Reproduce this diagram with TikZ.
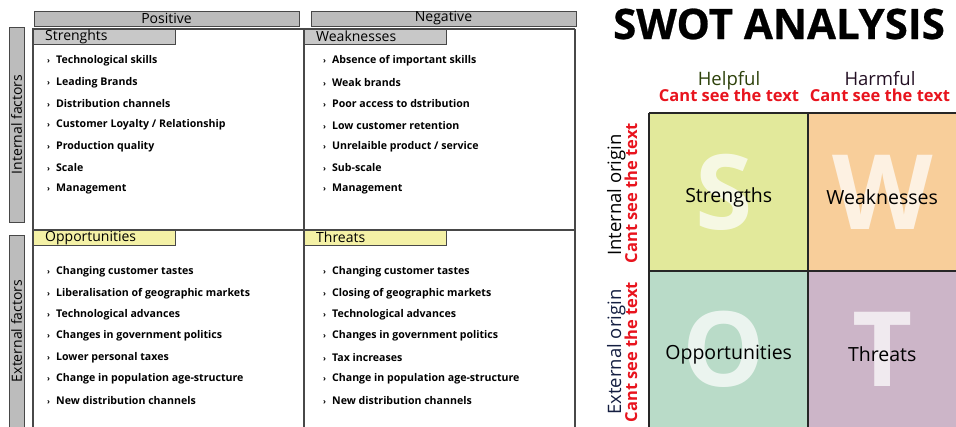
\documentclass[tikz,border=0pt]{standalone}
\usepackage{fontspec}
\setmainfont{Open Sans}
\newfontfamily\titlefont{Open Sans}[BoldFeatures={FakeBold=0.6}]
\usetikzlibrary{positioning}

\definecolor{barGray}{RGB}{188,188,188}
\definecolor{tabGray}{RGB}{200,200,200}
\definecolor{tabYellow}{RGB}{244,241,166}
\definecolor{lineGray}{RGB}{72,72,72}
\definecolor{swS}{RGB}{226,233,155}
\definecolor{swW}{RGB}{248,206,154}
\definecolor{swO}{RGB}{185,219,200}
\definecolor{swT}{RGB}{204,181,200}
\definecolor{cantRed}{RGB}{232,20,30}
\definecolor{helpGreen}{RGB}{45,65,10}
\definecolor{harmDark}{RGB}{35,15,35}
\definecolor{extNavy}{RGB}{20,30,65}

\newcommand\swotbul{{\fontsize{8}{8}\selectfont›}\hspace{6pt}}

\begin{document}
\begin{tikzpicture}[x=1pt,y=-1pt,
    frame/.style={draw=lineGray,line width=1.1pt},
    bar/.style={draw=lineGray,fill=barGray,inner sep=0pt,minimum height=15pt,font=\fontsize{14}{14}\selectfont},
    tab/.style={draw=lineGray,anchor=north west,inner ysep=0pt,inner xsep=12pt,minimum height=15pt,text width=118pt,font=\fontsize{14}{14}\selectfont},
    item/.style={anchor=west,inner sep=0pt,font=\fontsize{10.6}{10.6}\selectfont\bfseries},
    cell/.style={anchor=north west,inner sep=0pt,draw=none},
    big/.style={text=white,text opacity=.72,font=\fontsize{104}{104}\selectfont\bfseries},
    word/.style={font=\fontsize{19.5}{19.5}\selectfont},
    side/.style={font=\fontsize{18.5}{18.5}\selectfont},
    cant/.style={text=cantRed,anchor=base,font=\fontsize{16.5}{16.5}\selectfont\bfseries},
    grid/.style={draw=black!85,line width=1.2pt}]
    \useasboundingbox (0,0) rectangle (956,427);

    \draw[frame] (33,427) -- (33,29) -- (575,29);
    \draw[frame] (304,29) -- (304,427);
    \draw[frame] (33,230) -- (575,230);
    \draw[frame,line width=2.5pt] (575,29) -- (575,427);

    \node[bar,minimum width=265pt] (pos) at (166.5,18.5) {Positive};
    \node[bar,minimum width=265pt] (neg) at (443.5,18.5) {Negative};
    \node[bar,rotate=90,minimum width=195pt] (int) at (16.5,124.5) {Internal factors};
    \node[bar,rotate=90,minimum width=192pt] (ext) at (16.5,331) {External factors};

    \foreach \n/\x/\y/\c/\t in{
    st/33/29/tabGray/Strenghts,
    wk/304/29/tabGray/Weaknesses,
    op/33/230/tabYellow/Opportunities,
    th/304/230/tabYellow/Threats
    }
    {
            \node[tab,fill=\c] (\n) at (\x,\y) {\t};
        }

    \foreach \t [count=\i] in {Technological skills, Leading Brands, Distribution channels,
        Customer Loyalty / Relationship, Production quality, Scale, Management}
        \node[item] (st\i) at (47,{61+21.35*(\i-1)}) {\swotbul\t};
    \foreach \t [count=\i] in {Absence of important skills, Weak brands, Poor access to dstribution,
        Low customer retention, Unrelaible product / service, Sub-scale, Management}
        \node[item] (wk\i) at (323,{61+21.35*(\i-1)}) {\swotbul\t};
    \foreach \t [count=\i] in {Changing customer tastes, Liberalisation of geographic markets,
        Technological advances, Changes in government politics, Lower personal taxes,
        Change in population age-structure, New distribution channels}
        \node[item] (op\i) at (47,{272+21.35*(\i-1)}) {\swotbul\t};
    \foreach \t [count=\i] in {Changing customer tastes, Closing of geographic markets,
        Technological advances, Changes in government politics, Tax increases,
        Change in population age-structure, New distribution channels}
        \node[item] (th\i) at (323,{272+21.35*(\i-1)}) {\swotbul\t};

    \node[font=\fontsize{42}{42}\selectfont\titlefont\bfseries] (title) at (779,24) {SWOT ANALYSIS};

    \foreach \n/\x/\y/\w/\h/\c/\d/\l/\t in{
    S/649/113/159/158/swS/-5/S/Strengths,
    W/808/113/148/158/swW/1/W/Weaknesses,
    O/649/271/159/156/swO/-5/O/Opportunities,
    T/808/271/148/156/swT/0/T/Threats
    }
    {
            \node[cell,fill=\c,minimum width=\w pt,minimum height=\h pt] (\n) at (\x,\y) {};
            \node[big] (\n big) at ([xshift=\d pt]\n.center) {\l};
            \node[word] (\n word) at ([yshift=-5pt]\n.center) {\t};
        }
    \draw[grid] (S.north west) -- (W.north east);
    \draw[grid] (O.north west) -- (T.north east);
    \draw[grid] (S.north west) -- (O.south west);
    \draw[grid] (W.north west) -- (T.south west);

    \node[side,anchor=base,text=helpGreen] (help) at (729,86) {Helpful};
    \node[cant] (helpc) at (729,102) {Cant see the text};
    \node[side,anchor=base,text=harmDark] (harm) at (880,86) {Harmful};
    \node[cant] (harmc) at (880,102) {Cant see the text};
    \node[side,anchor=base,rotate=90,text=black] (intern) at (621,195) {Internal origin};
    \node[cant,rotate=90] (internc) at (637,193) {Cant see the text};
    \node[side,anchor=base,rotate=90,text=extNavy] (extern) at (621,352) {External origin};
    \node[cant,rotate=90] (externc) at (637,352) {Cant see the text};
\end{tikzpicture}
\end{document}
